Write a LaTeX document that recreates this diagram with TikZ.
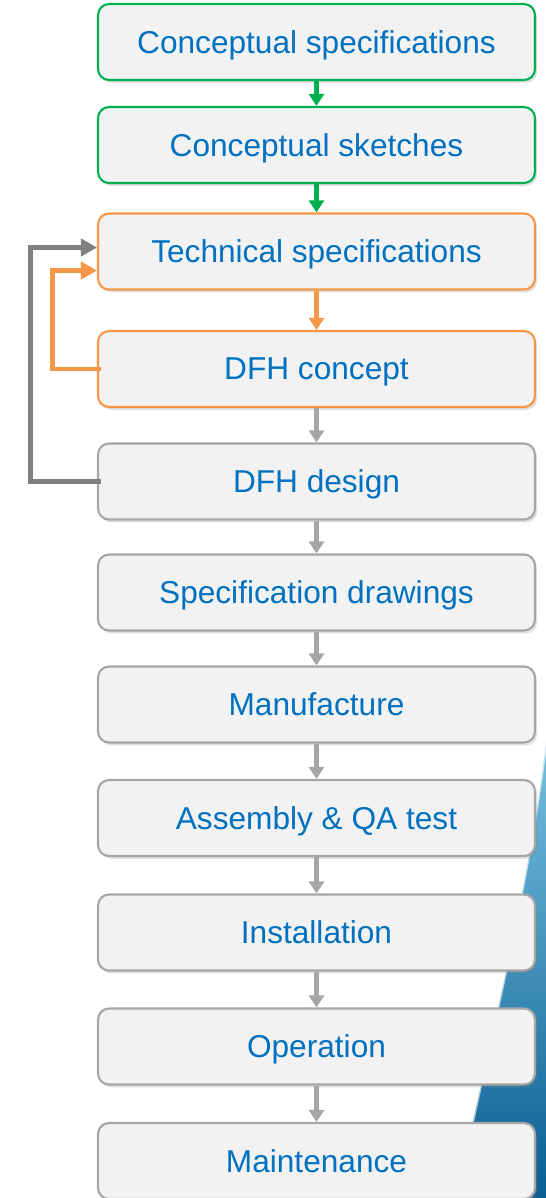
\documentclass[tikz,border=0pt]{standalone}
\usepackage{fontspec}
\setmainfont{Liberation Sans}
\usetikzlibrary{arrows.meta,shadows}

\definecolor{stepgreen}{HTML}{00B050}
\definecolor{steporange}{HTML}{F79646}
\definecolor{stepgray}{HTML}{A6A6A6}
\definecolor{loopgray}{HTML}{808080}
\definecolor{boxfill}{HTML}{F2F2F2}
\definecolor{textblue}{HTML}{0070C0}
\definecolor{swooshlight}{HTML}{74C0DE}
\definecolor{swooshdark}{HTML}{0A5E93}

\tikzset{
	phase/.style={draw=stepgray, line width=1.2pt, fill=boxfill, rounded corners=0.22cm,
		minimum width=8.74cm, minimum height=1.52cm, text=textblue, text depth=0pt,
		font=\fontsize{18}{21}\selectfont,
		drop shadow={shadow xshift=1.2pt, shadow yshift=-1.6pt, opacity=0.25}},
	flow/.style={line width=2.4pt, -{Triangle[width=0.3cm,length=0.24cm]}},
	feedback/.style={line width=2.8pt, -{Triangle[width=0.34cm,length=0.32cm]}}
}

\begin{document}
\begin{tikzpicture}[x=0.02cm,y=-0.02cm]
		\useasboundingbox (0,0) rectangle (545,1198);
		
		% Blue swoosh in the lower right corner
		\shade[top color=swooshlight, bottom color=swooshdark]
			(546,742) .. controls (530,880) and (490,1040) .. (456,1198) -- (546,1198) -- cycle;
		\draw[white, opacity=0.6, line width=1.5pt]
			(546,742) .. controls (530,880) and (490,1040) .. (456,1198);
		
		% Process steps
		\node[phase, draw=stepgreen] (cspec) at (316.5,42) {Conceptual specifications};
		\node[phase, draw=stepgreen] (csketch) at (316.5,145) {Conceptual sketches};
		\node[phase, draw=steporange] (tech) at (316.5,251.5) {Technical specifications};
		\node[phase, draw=steporange] (concept) at (316.5,369) {DFH concept};
		\node[phase] (design) at (316.5,481.5) {DFH design};
		\node[phase] (drawings) at (316.5,592.5) {Specification drawings};
		\node[phase] (manuf) at (316.5,704.5) {Manufacture};
		\node[phase] (assembly) at (316.5,818) {Assembly \& QA test};
		\node[phase] (install) at (316.5,932.5) {Installation};
		\node[phase] (operation) at (316.5,1046.5) {Operation};
		\node[phase] (maint) at (316.5,1161) {Maintenance};
		
		% Forward arrows
		\draw[flow, stepgreen] (cspec) -- (csketch);
		\draw[flow, stepgreen] (csketch) -- (tech);
		\draw[flow, steporange] (tech) -- (concept);
		\foreach \a/\b in {concept/design, design/drawings, drawings/manuf, manuf/assembly,
			assembly/install, install/operation, operation/maint}
			\draw[flow, stepgray] (\a) -- (\b);
		
		% Loops back to the technical specifications
		\draw[feedback, loopgray] ([xshift=2pt]design.west) -- ++(-70,0) |- ([yshift=0.08cm]tech.west);
		\draw[feedback, steporange] ([xshift=2pt]concept.west) -- ++(-48,0) |- ([yshift=-0.38cm]tech.west);
		
	\end{tikzpicture}
\end{document}
